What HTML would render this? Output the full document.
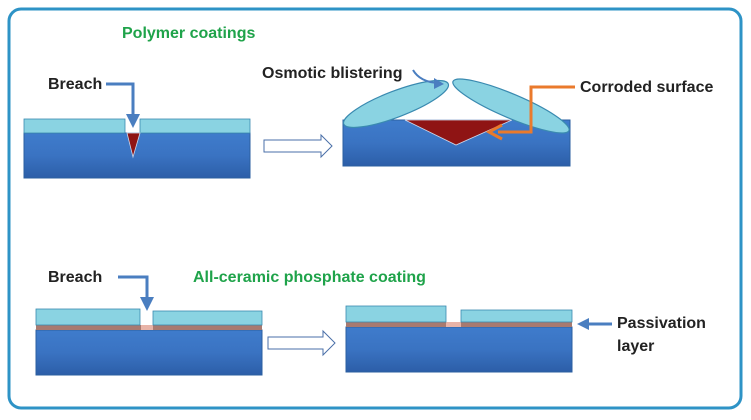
<!DOCTYPE html>
<html><head><meta charset="utf-8"><style>
html,body{margin:0;padding:0;background:#fff;}
svg{display:block}
text{font-family:"Liberation Sans",sans-serif;font-weight:bold;}
</style></head><body>
<svg width="751" height="420" viewBox="0 0 751 420" xmlns="http://www.w3.org/2000/svg">
<defs>
<linearGradient id="sub" x1="0" y1="0" x2="0" y2="1">
<stop offset="0" stop-color="#3f7ccc"/><stop offset="0.5" stop-color="#3a73c2"/><stop offset="1" stop-color="#2c5ea8"/>
</linearGradient>
</defs>
<rect x="9" y="9" width="732" height="399" rx="12" fill="#fff" stroke="#2e93c6" stroke-width="3"/>
<text x="122" y="38" font-size="16" fill="#1fa34a">Polymer coatings</text>
<!-- top-left -->
<rect x="24" y="133" width="226" height="45" fill="url(#sub)" stroke="#2b5fa0"/>
<rect x="24" y="119" width="101" height="14" fill="#8ad3e2" stroke="#3a8ab0" stroke-width="0.8"/>
<rect x="140" y="119" width="110" height="14" fill="#8ad3e2" stroke="#3a8ab0" stroke-width="0.8"/>
<polygon points="127,133 140,133 133,157" fill="#8f1414" stroke="#cfd8ea" stroke-width="0.8"/>
<text x="48" y="89" font-size="16" fill="#222">Breach</text>
<path d="M106,84 H133 V118" fill="none" stroke="#4a7ec0" stroke-width="3"/>
<path d="M126,114 L133,128 L140,114 Z" fill="#4a7ec0"/>
<path d="M264,140 H321 V135 L332,146 L321,157 V152 H264 Z" fill="#fff" stroke="#4a6fa8" stroke-width="1"/>
<!-- top-right -->
<rect x="343" y="120" width="227" height="46" fill="url(#sub)" stroke="#2b5fa0"/>
<polygon points="405,120 512,120 456,145" fill="#8f1414" stroke="#cfd8ea" stroke-width="0.8"/>
<ellipse cx="396" cy="104" rx="56" ry="13" transform="rotate(-21 396 104)" fill="#8ad3e2" stroke="#3a8ab0" stroke-width="1.2"/>
<ellipse cx="511" cy="106" rx="63" ry="12" transform="rotate(23 511 106)" fill="#8ad3e2" stroke="#3a8ab0" stroke-width="1.2"/>
<text x="262" y="78" font-size="16" fill="#222">Osmotic blistering</text>
<path d="M413,70 Q420,82 438,83" fill="none" stroke="#4a7ec0" stroke-width="2"/>
<path d="M434,78 L444,84 L434,89 Z" fill="#4a7ec0"/>
<text x="580" y="92" font-size="16" fill="#222">Corroded surface</text>
<path d="M575,87 H531 V132 H498" fill="none" stroke="#ea7a2c" stroke-width="3"/>
<path d="M502,125 L489,132 L502,139" fill="none" stroke="#ea7a2c" stroke-width="3"/>
<!-- bottom-left -->
<text x="48" y="282" font-size="16" fill="#222">Breach</text>
<text x="193" y="282" font-size="16" fill="#1fa34a">All-ceramic phosphate coating</text>
<rect x="36" y="330" width="226" height="45" fill="url(#sub)" stroke="#2b5fa0"/>
<rect x="36" y="325" width="226" height="5" fill="#a87a70"/>
<rect x="141" y="325" width="12" height="5" fill="#e8b4a8"/>
<rect x="36" y="309" width="104" height="16" fill="#8ad3e2" stroke="#3a8ab0" stroke-width="0.8"/>
<rect x="153" y="311" width="109" height="14" fill="#8ad3e2" stroke="#3a8ab0" stroke-width="0.8"/>
<path d="M118,277 H147 V300" fill="none" stroke="#4a7ec0" stroke-width="3"/>
<path d="M140,297 L147,311 L154,297 Z" fill="#4a7ec0"/>
<path d="M268,337 H323 V331 L335,343 L323,355 V349 H268 Z" fill="#fff" stroke="#4a6fa8" stroke-width="1"/>
<!-- bottom-right -->
<rect x="346" y="327" width="226" height="45" fill="url(#sub)" stroke="#2b5fa0"/>
<rect x="346" y="322" width="226" height="5" fill="#a87a70"/>
<rect x="446" y="322" width="15" height="5" fill="#e8b4a8"/>
<rect x="346" y="306" width="100" height="16" fill="#8ad3e2" stroke="#3a8ab0" stroke-width="0.8"/>
<rect x="461" y="310" width="111" height="12" fill="#8ad3e2" stroke="#3a8ab0" stroke-width="0.8"/>
<path d="M612,324 H586" fill="none" stroke="#4a7ec0" stroke-width="3"/>
<path d="M589,318 L577,324 L589,330 Z" fill="#4a7ec0"/>
<text x="617" y="328" font-size="16" fill="#222">Passivation</text>
<text x="617" y="351" font-size="16" fill="#222">layer</text>
</svg>
</body></html>
